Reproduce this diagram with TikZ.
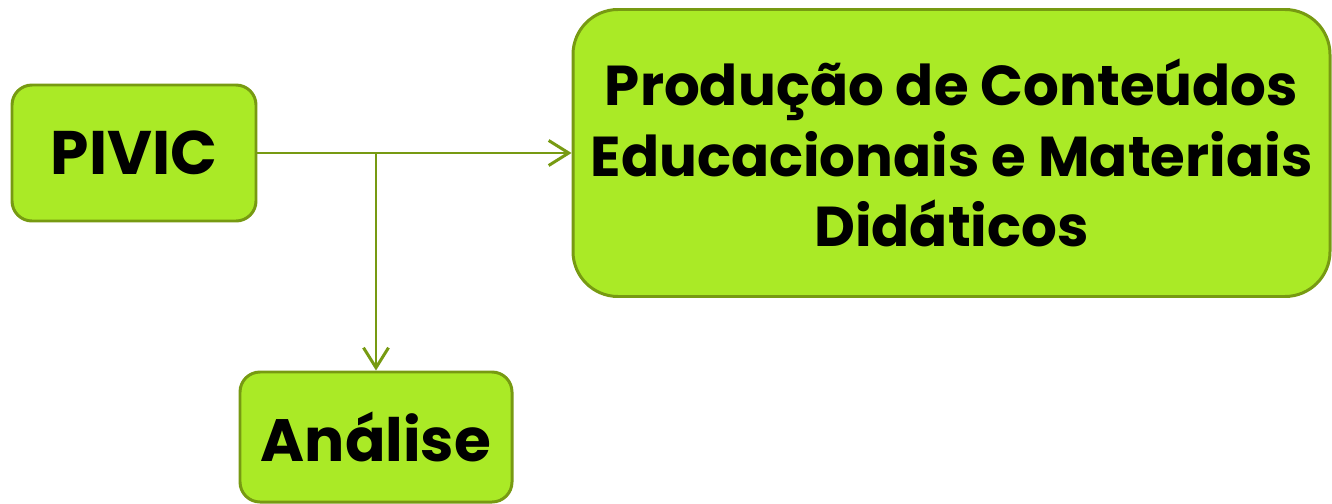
\documentclass[tikz,border=0pt]{standalone}
\usepackage{fontspec}
\setmainfont{Poppins}[BoldFont={Poppins Bold}]
\usetikzlibrary{arrows.meta}
\definecolor{limefill}{HTML}{AAEA26}
\definecolor{olivedraw}{HTML}{779A12}
\tikzstyle{block} = [rectangle, rounded corners=0.4cm, fill=limefill, draw=olivedraw, line width=1.7pt, text centered, font=\bfseries]
\tikzstyle{arrow} = [draw=olivedraw, line width=1.7pt, -{Straight Barb[length=0.4cm,width=0.5cm]}]

\begin{document}
\begin{tikzpicture}
    \useasboundingbox (0,0) rectangle (26.64,10.06);
        \node (pivic) [block, minimum width=4.88cm, minimum height=2.72cm, font=\bfseries\fontsize{35}{40}\selectfont] at (2.68,7.0) {PIVIC};
        \node (producao) [block, rounded corners=0.9cm, minimum width=15.14cm, minimum height=5.74cm, align=center, font=\bfseries\fontsize{32}{40}\selectfont] at (19.03,7.0) {Produção de Conteúdos\\Educacionais e Materiais\\Didáticos};
        \node (analise) [block, minimum width=5.44cm, minimum height=2.6cm, font=\bfseries\fontsize{34}{40}\selectfont] at (7.52,1.32) {Análise};
        \coordinate (branch) at (7.52,7.0);
        \draw [arrow] (pivic.east) -- (producao.west);
        \draw [arrow] (branch) -- (analise.north);
    \end{tikzpicture}
\end{document}
